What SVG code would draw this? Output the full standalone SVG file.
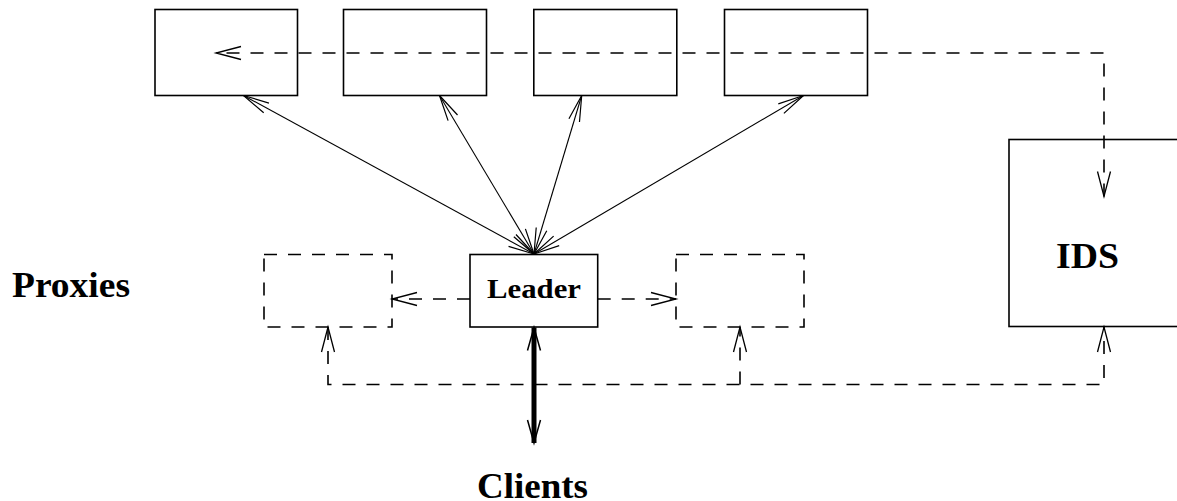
<svg xmlns="http://www.w3.org/2000/svg" width="1177" height="501" viewBox="0 0 1177 501">
<style>
.box{fill:none;stroke:#000;stroke-width:1.6}
.dbox{fill:none;stroke:#000;stroke-width:1.6;stroke-dasharray:13 11}
.solid{fill:none;stroke:#000;stroke-width:1.1;marker-start:url(#ah);marker-end:url(#ah)}
.dash{fill:none;stroke:#000;stroke-width:1.6;stroke-dasharray:13 11}
.lbl{font-family:"Liberation Serif","Times New Roman",serif;font-weight:bold;fill:#000}
</style>
<defs>
<marker id="ah" markerUnits="userSpaceOnUse" markerWidth="30" markerHeight="16" refX="26" refY="6" orient="auto-start-reverse" overflow="visible">
<path d="M0,0.5 L26,6 L0,11.5" fill="none" stroke="#000" stroke-width="1.2"/>
</marker>
<marker id="ahd" markerUnits="userSpaceOnUse" markerWidth="30" markerHeight="16" refX="25" refY="7" orient="auto-start-reverse" overflow="visible">
<path d="M0,0.5 L25,7 L0,13.5" fill="none" stroke="#000" stroke-width="1.3"/>
</marker>
<marker id="aht" markerUnits="userSpaceOnUse" markerWidth="30" markerHeight="16" refX="23" refY="7" orient="auto-start-reverse" overflow="visible">
<path d="M0,0.5 L23,7 L0,13.5" fill="none" stroke="#000" stroke-width="1.5"/>
</marker>
</defs>

<g id="box1"><rect class="box" x="155" y="9.5" width="142.5" height="86"/></g>
<g id="box2"><rect class="box" x="343.5" y="9.5" width="143" height="86"/></g>
<g id="box3"><rect class="box" x="533.8" y="9.5" width="143" height="86"/></g>
<g id="box4"><rect class="box" x="724.5" y="9.5" width="143" height="86"/></g>

<g id="proxy-left"><rect class="dbox" x="264" y="254.5" width="128" height="72.5"/></g>
<g id="leader"><rect class="box" x="470" y="254.5" width="127.7" height="72.5"/>
<text class="lbl" x="534" y="298" font-size="28" text-anchor="middle" textLength="94" lengthAdjust="spacingAndGlyphs">Leader</text></g>
<g id="proxy-right"><rect class="dbox" x="676" y="254.5" width="128" height="72.5"/></g>

<g id="ids"><rect class="box" x="1009" y="139.5" width="180" height="187"/>
<text class="lbl" x="1056" y="268" font-size="35" textLength="63" lengthAdjust="spacingAndGlyphs">IDS</text></g>

<g id="proxies-label"><text class="lbl" x="12" y="297" font-size="35" textLength="118" lengthAdjust="spacingAndGlyphs">Proxies</text></g>
<g id="clients-label"><text class="lbl" x="477" y="498" font-size="35" textLength="111" lengthAdjust="spacingAndGlyphs">Clients</text></g>

<g id="connectors">
<path class="solid" d="M534,254 L243.5,95.5"/>
<path class="solid" d="M534,254 L439.5,95.5"/>
<path class="solid" d="M534,254 L581.7,95.5"/>
<path class="solid" d="M534,254 L803.5,95.5"/>

<path class="dash" d="M1104,196.5 L1104,53 L216,53" marker-start="url(#ahd)" marker-end="url(#ahd)"/>

<path class="dash" d="M470,299 L392,299" marker-end="url(#ahd)"/>
<path class="dash" d="M597.7,299 L676,299" marker-end="url(#ahd)"/>

<path class="dash" d="M328,327 L328,384.5 L1104,384.5 L1104,327" marker-start="url(#ahd)" marker-end="url(#ahd)"/>
<path class="dash" d="M740,384.5 L740,327" marker-end="url(#ahd)"/>

<path d="M534,327.5 L534,443" fill="none" stroke="#000" stroke-width="5" marker-start="url(#aht)" marker-end="url(#aht)"/>
</g>
</svg>
